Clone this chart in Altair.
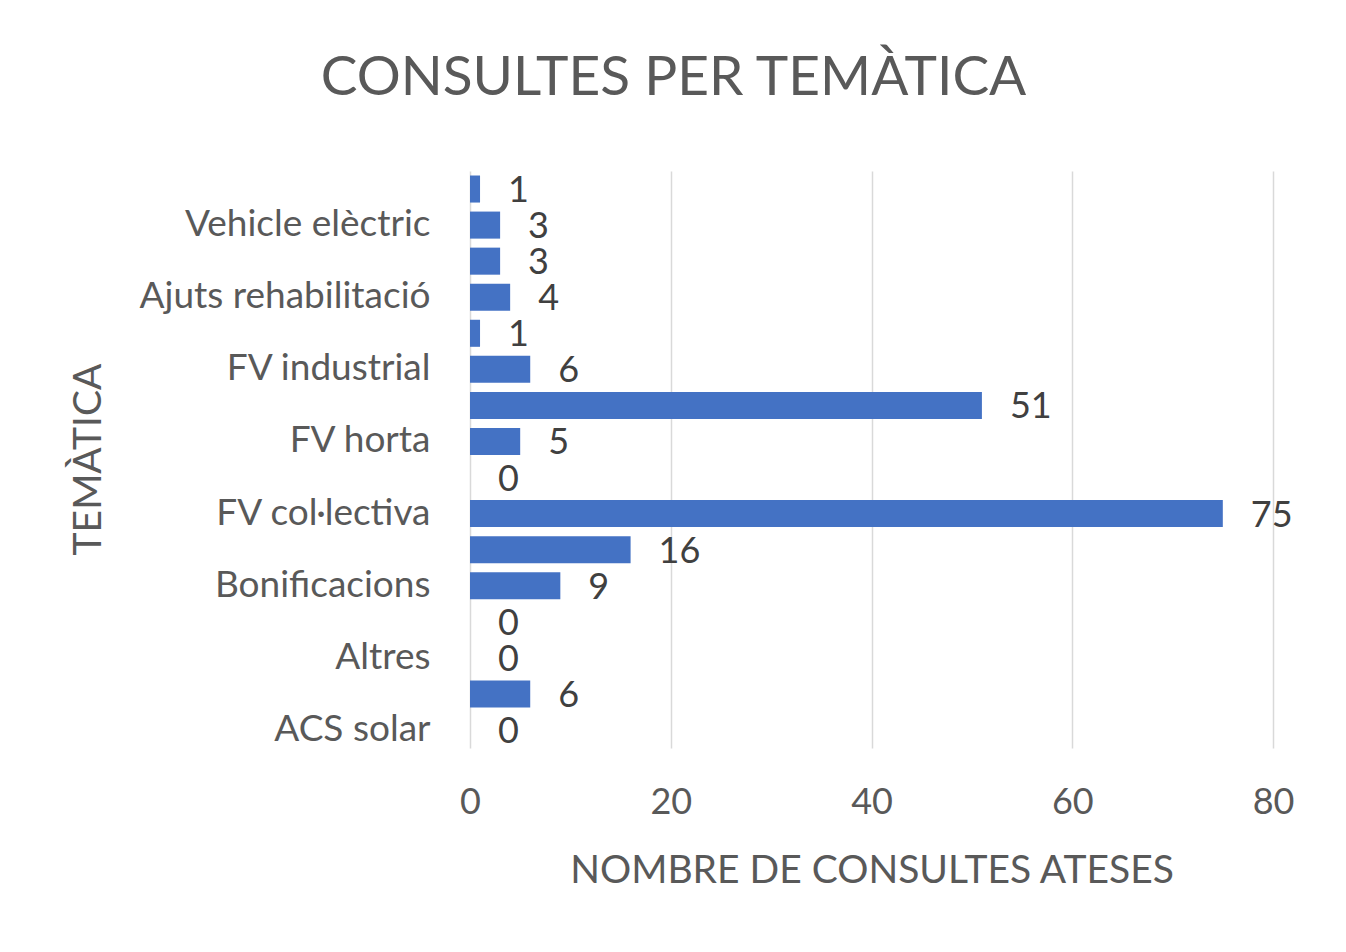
import altair as alt
import pandas as pd

# Categories from top to bottom (only every other label is visible in the reference)
categories = [
    "Tarifes elèctriques", "Vehicle elèctric", "Subvencions", "Ajuts rehabilitació",
    "Eficiència energètica", "FV industrial", "FV individual", "FV horta",
    "FV empresa", "FV col·lectiva", "Comunitat energètica", "Bonificacions",
    "Autoconsum", "Altres", "Aerotèrmia", "ACS solar",
]
values = [1, 3, 3, 4, 1, 6, 51, 5, 0, 75, 16, 9, 0, 0, 6, 0]
shown_labels = [
    "Vehicle elèctric", "Ajuts rehabilitació", "FV industrial", "FV horta",
    "FV col·lectiva", "Bonificacions", "Altres", "ACS solar",
]
x_ticks = [0, 20, 40, 60, 80]

df = pd.DataFrame({"Temàtica": categories, "Consultes": values})

FONT = "Lato"
GRAY = "#595959"

y_enc = alt.Y(
    "Temàtica:N",
    sort=categories,
    scale=alt.Scale(paddingInner=0.25, paddingOuter=0.125),
    axis=alt.Axis(
        values=shown_labels,
        title="TEMÀTICA",
        domain=False,
        ticks=False,
        tickSize=0,
        labelFont=FONT,
        labelFontSize=37,
        labelColor=GRAY,
        labelPadding=40,
        labelLimit=500,
        titleFont=FONT,
        titleFontSize=39,
        titleFontWeight="normal",
        titleColor=GRAY,
        titleAngle=270,
        titleAlign="center",
        titleBaseline="middle",
        titleX=-382,
        titleY=288,
    ),
)

x_enc = alt.X(
    "Consultes:Q",
    scale=alt.Scale(domain=[0, 80], nice=False),
    axis=alt.Axis(
        values=x_ticks,
        grid=True,
        gridColor="#d9d9d9",
        gridWidth=1.5,
        domain=False,
        ticks=False,
        tickSize=0,
        labelFont=FONT,
        labelFontSize=36,
        labelColor=GRAY,
        labelBaseline="alphabetic",
        labelPadding=65,
        labelFlush=False,
        title="NOMBRE DE CONSULTES ATESES",
        titleFont=FONT,
        titleFontSize=39,
        titleFontWeight="normal",
        titleColor=GRAY,
        titleBaseline="alphabetic",
        titleY=134,
    ),
)

bars = alt.Chart(df).mark_bar(color="#4472C4").encode(x=x_enc, y=y_enc)

labels = alt.Chart(df).mark_text(
    align="left", baseline="middle", dx=28, dy=2, font=FONT, fontSize=36, color="#404040"
).encode(
    x=alt.X("Consultes:Q"),
    y=alt.Y("Temàtica:N", sort=categories),
    text=alt.Text("Consultes:Q"),
)

chart = (
    alt.layer(bars, labels)
    .properties(
        width=803,
        height=577,
        autosize=alt.AutoSizeParams(type="none"),
        padding={"left": 462, "top": 163, "right": 65, "bottom": 196},
        background="white",
        title=alt.TitleParams(
            "CONSULTES PER TEMÀTICA",
            font=FONT,
            fontSize=55,
            fontWeight="normal",
            color=GRAY,
            anchor="middle",
            baseline="alphabetic",
            offset=21,
            dx=-198,
        ),
    )
    .configure_view(stroke=None)
)

chart.save("out.html", embed_options={"renderer": "svg", "actions": False})
